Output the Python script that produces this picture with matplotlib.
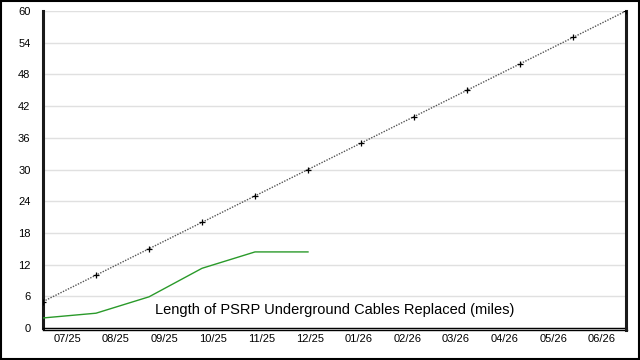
import matplotlib.pyplot as plt
from matplotlib.patches import Rectangle
from matplotlib.lines import Line2D

# dados
meses = ['07/25', '08/25', '09/25', '10/25', '11/25', '12/25',
         '01/26', '02/26', '03/26', '04/26', '05/26', '06/26']
meta = [5, 10, 15, 20, 25, 30, 35, 40, 45, 50, 55, 60]
real = [1.9, 2.8, 5.9, 11.3, 14.4, 14.4]
y_ticks = [0, 6, 12, 18, 24, 30, 36, 42, 48, 54, 60]

plt.rcParams['font.family'] = ['Liberation Sans', 'DejaVu Sans']

fig = plt.figure(figsize=(6.4, 3.6), dpi=100)
ax = fig.add_axes([0.0672, 0.0889, 0.9109, 0.8805])

n = len(meses)
passo = n / (n - 1)
x_meta = [i * passo for i in range(len(meta))]
x_real = [i * passo for i in range(len(real))]

ax.plot(x_meta, meta, color='#555555', linestyle=(0, (1, 1)), linewidth=1,
        marker='+', markersize=5, markeredgecolor='black', markeredgewidth=0.9, zorder=3)
ax.plot(x_real, real, color='#2a9a2a', linewidth=1, zorder=3)

ax.set_xlim(0, n)
ax.set_ylim(0, 60)
ax.set_yticks(y_ticks)
ax.set_xticks([i + 0.5 for i in range(n)])
ax.set_xticklabels(meses)
ax.tick_params(axis='both', length=0, labelsize=8, colors='black')
ax.tick_params(axis='y', pad=9)
ax.tick_params(axis='x', pad=4)
ax.grid(axis='y', color='#e0e0e0', linewidth=1)
ax.set_axisbelow(True)

ax.spines['top'].set_visible(False)
ax.spines['left'].set_linewidth(2.2)
ax.spines['right'].set_linewidth(2.2)
ax.spines['bottom'].set_linewidth(1)
ax.spines['left'].set_color('#1a1a1a')
ax.spines['right'].set_color('#1a1a1a')

# linha dupla do eixo x
y_base = (360 - 330.3) / 360
fig.add_artist(Line2D([0.0672, 0.98], [y_base, y_base], color='black', linewidth=1,
                      transform=fig.transFigure))
fig.add_artist(Line2D([0.9781, 0.9781], [y_base, 0.0889], color='#1a1a1a', linewidth=2.2,
                      transform=fig.transFigure))

ax.text(0.5, 0.035, 'Length of PSRP Underground Cables Replaced (miles)',
        transform=ax.transAxes, ha='center', va='bottom', fontsize=10.5)

# moldura externa
fig.add_artist(Rectangle((0.001, 0.002), 0.997, 0.996, transform=fig.transFigure,
                         fill=False, edgecolor='black', linewidth=1.5))

fig.savefig('out.png', dpi=100)
